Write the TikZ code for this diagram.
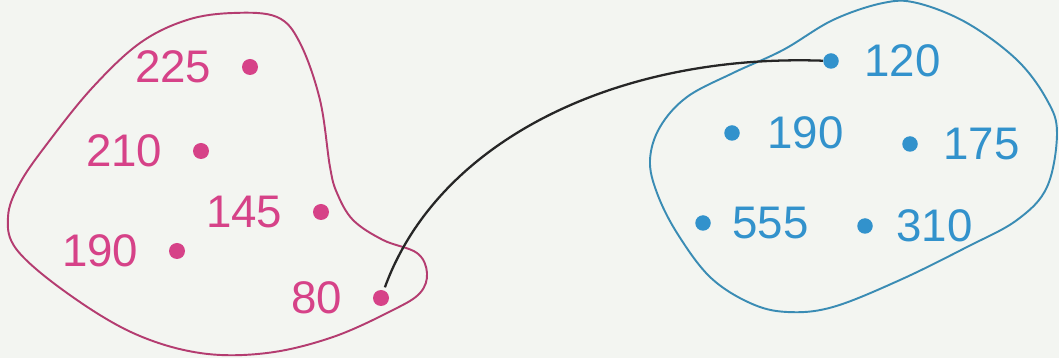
\documentclass[tikz,border=0pt]{standalone}
\usepackage{fontspec}
\setmainfont{Liberation Sans}
\usepackage{xcolor}
\usepackage{tikz}
\usetikzlibrary{positioning, backgrounds}

\definecolor{paper}{RGB}{243,245,241}
\definecolor{setpink}{RGB}{214,66,136}
\definecolor{setpinkline}{RGB}{180,60,112}
\definecolor{setblue}{RGB}{50,146,204}
\definecolor{setblueline}{RGB}{58,140,180}

\begin{document}
\begin{tikzpicture}[
    x=0.02cm, y=0.02cm,
    node distance=0.6cm,
    dotpink/.style={circle, fill=setpink, inner sep=0pt, minimum size=0.32cm},
    dotblue/.style={circle, fill=setblue, inner sep=0pt, minimum size=0.31cm},
    numpink/.style={inner sep=0pt, text=setpink, font=\fontsize{26}{28}\selectfont},
    numblue/.style={inner sep=0pt, text=setblue, font=\fontsize{26}{28}\selectfont},
    blobpink/.style={draw=setpinkline, line width=1.1pt},
    blobblue/.style={draw=setblueline, line width=1.1pt},
    link/.style={draw=black!85, line width=1.3pt}
]
    \fill [paper] (0,0) rectangle (1059,358);
    \useasboundingbox (0,0) rectangle (1059,358);

    \draw [blobpink] plot [smooth cycle, tension=0.6] coordinates {
        (233,345) (277,341) (300,315) (320,258) (330,191) (337,165) (353,138)
        (383,118) (417,105) (427,85) (420,65) (393,48) (333,21) (267,5)
        (200,5) (133,25) (67,65) (17,108) (8,141) (20,175) (50,218)
        (93,271) (140,315) (187,338)};
    \draw [blobblue] plot [smooth cycle, tension=0.6] coordinates {
        (1057,225) (1047,171) (1017,138) (967,111) (900,78) (833,51) (787,46)
        (750,55) (710,81) (677,125) (657,165) (650,198) (660,231) (687,261)
        (733,285) (783,308) (833,338) (883,355) (917,355) (967,335) (1017,298)
        (1047,258)};

    \node [dotpink] (d225) at (250,291) {};
    \node [dotpink] (d210) at (201,207) {};
    \node [dotpink] (d145) at (321,146) {};
    \node [dotpink] (d190) at (177,107) {};
    \node [dotpink] (d80) at (381,60) {};
    \node [numpink, left=of d225] (n225) {225};
    \node [numpink, left=of d210] (n210) {210};
    \node [numpink, left=of d145] (n145) {145};
    \node [numpink, left=of d190] (n190) {190};
    \node [numpink, left=of d80] (n80) {80};

    \node [dotblue] (b120) at (831,297) {};
    \node [dotblue] (b190) at (732,225) {};
    \node [dotblue] (b175) at (910,214) {};
    \node [dotblue] (b555) at (703,135) {};
    \node [dotblue] (b310) at (865,132) {};
    \node [numblue, right=0.5cm of b120] (m120) {120};
    \node [numblue, right=0.54cm of b190] (m190) {190};
    \node [numblue, right=0.5cm of b175] (m175) {175};
    \node [numblue, right=0.42cm of b555] (m555) {555};
    \node [numblue, right=0.46cm of b310] (m310) {310};

    \draw [link, shorten <=0.06cm] (d80) to [out=70, in=178, out distance=3.2cm, in distance=4.1cm] (b120);
\end{tikzpicture}
\end{document}
